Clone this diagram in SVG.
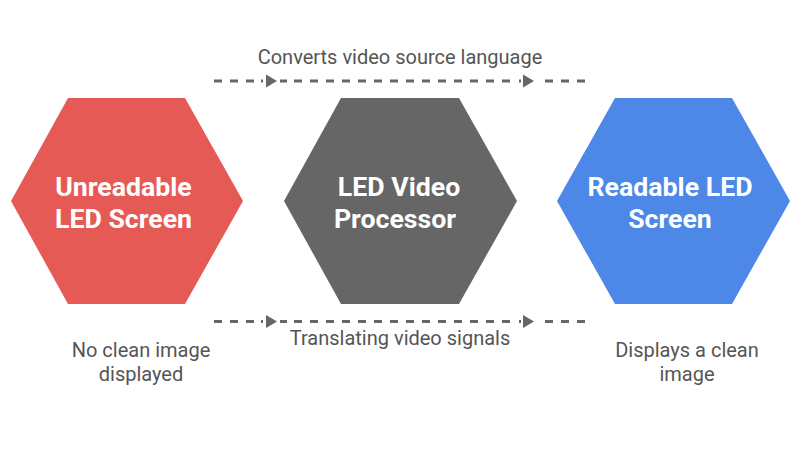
<svg xmlns="http://www.w3.org/2000/svg" width="800" height="450" viewBox="0 0 800 450">
<style>
text{font-family:Roboto,"Liberation Sans",sans-serif;text-anchor:middle}
.t{font-size:26.700px;font-weight:700;fill:#fff}
.l{font-size:20px;fill:#555}
.c{fill:none;stroke:#666;stroke-width:2.800;stroke-dasharray:8 8}
.a{fill:#666}
</style>
<defs>
<g id="conn">
<path class="c" d="M214 0H256M294 0H511M545 0H587"/>
<path class="c" style="stroke-dasharray:none" d="M261 0H263M280 0H287M519 0H521"/>
<path class="a" d="M266 -6.500L277 0L266 6.500Z"/>
<path class="a" d="M523 -6.500L534 0L523 6.500Z"/>
</g>
</defs>
<rect width="800" height="450" fill="#fff"/>
<g id="connectors">
<use href="#conn" y="81"/>
<use href="#conn" y="321.500"/>
</g>
<g id="node-unreadable">
<path fill="#e65a55" d="M68 98H185L243 201L185 304H68L11 201Z"/>
<text class="t" x="123.500" y="196">Unreadable</text>
<text class="t" x="123.500" y="228">LED Screen</text>
</g>
<g id="node-processor">
<path fill="#666666" d="M341 98H459L517 201L459 304H341L284 201Z"/>
<text class="t" x="399" y="196">LED Video</text>
<text class="t" x="395" y="228">Processor</text>
</g>
<g id="node-readable">
<path fill="#4d88e8" d="M615 98H732L790 201L732 304H615L557 201Z"/>
<text class="t" x="670" y="196">Readable LED</text>
<text class="t" x="670" y="228">Screen</text>
</g>
<g id="labels">
<text class="l" x="400" y="64">Converts video source language</text>
<text class="l" x="400" y="345">Translating video signals</text>
<text class="l" x="141" y="357">No clean image</text>
<text class="l" x="141" y="381">displayed</text>
<text class="l" x="687" y="357">Displays a clean</text>
<text class="l" x="687" y="381">image</text>
</g>
</svg>
